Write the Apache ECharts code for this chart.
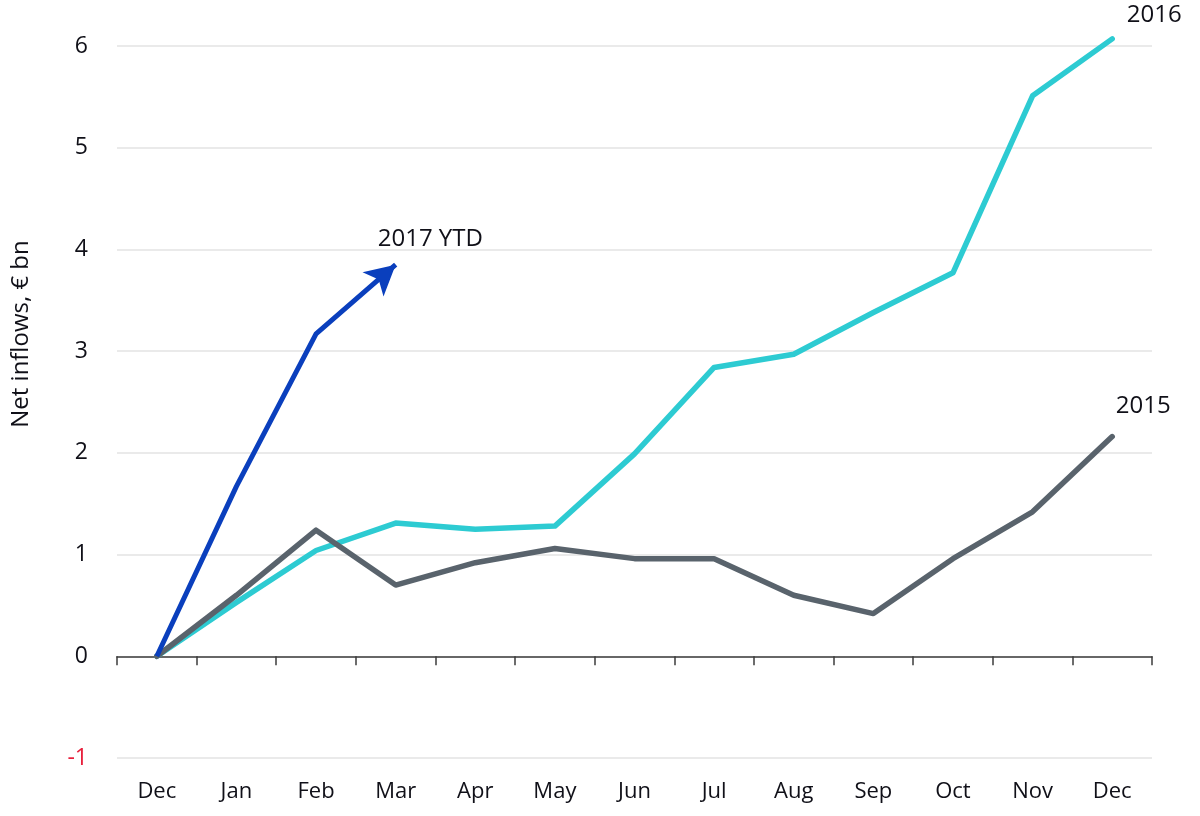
<!DOCTYPE html>
<html>
<head>
<meta charset="utf-8">
<script src="https://cdn.jsdelivr.net/npm/echarts@6/dist/echarts.min.js"></script>
<style>
html, body { margin: 0; padding: 0; background: #fff; }
#main { width: 1200px; height: 816px; }
</style>
</head>
<body>
<div id="main"></div>
<script>
var months = ['Dec', 'Jan', 'Feb', 'Mar', 'Apr', 'May', 'Jun', 'Jul', 'Aug', 'Sep', 'Oct', 'Nov', 'Dec'];
var yTicks = [-1, 0, 1, 2, 3, 4, 5, 6];
var inflows2015 = [0, 0.60, 1.24, 0.70, 0.92, 1.06, 0.96, 0.96, 0.60, 0.42, 0.96, 1.42, 2.16];
var inflows2016 = [0, 0.53, 1.04, 1.31, 1.25, 1.28, 1.99, 2.84, 2.97, 3.38, 3.77, 5.51, 6.07];
var inflows2017 = [0, 1.67, 3.17, 3.85];

var fontName = '"Open Sans", sans-serif';
var txtColor = '#101018';

// 2017 最后一点画箭头
var data2017 = inflows2017.slice(0, inflows2017.length - 1);
data2017.push({
	value: inflows2017[inflows2017.length - 1],
	symbol: 'arrow',
	symbolSize: [24, 30],
	symbolRotate: -49,
	itemStyle: { color: '#0a3fbd' },
	label: {
		show: true,
		position: 'inside',
		offset: [46, -35],
		formatter: '2017 YTD',
		fontFamily: fontName,
		fontSize: 24,
		color: txtColor
	}
});

function endLbl(offset) {
	return {
		show: true,
		formatter: '{a}',
		distance: 0,
		align: 'center',
		verticalAlign: 'middle',
		offset: offset,
		fontFamily: fontName,
		fontSize: 24,
		color: txtColor
	};
}

var myChart = echarts.init(document.getElementById('main'));
var option = {
	backgroundColor: '#fff',
	animation: false,
	grid: {
		left: 117,
		right: 48,
		top: 46,
		bottom: 58,
		containLabel: false
	},
	graphic: [{
		type: 'text',
		x: 9,
		y: 334,
		rotation: Math.PI / 2,
		style: {
			text: 'Net inflows, € bn',
			fontFamily: fontName,
			fontSize: 24,
			fill: txtColor,
			align: 'center',
			verticalAlign: 'top'
		}
	}],
	xAxis: [{
		type: 'category',
		data: months,
		position: 'bottom',
		boundaryGap: true,
		axisLine: { show: false, onZero: false },
		axisTick: { show: false },
		axisLabel: {
			margin: 23,
			fontFamily: fontName,
			fontSize: 22,
			color: txtColor
		},
		splitLine: { show: false }
	}, {
		type: 'category',
		data: months,
		position: 'bottom',
		boundaryGap: true,
		axisLine: {
			show: true,
			onZero: true,
			lineStyle: { color: '#3c3c3c', width: 1.5 }
		},
		axisTick: {
			show: true,
			length: 9,
			lineStyle: { color: '#3c3c3c', width: 1.5 }
		},
		axisLabel: { show: false },
		splitLine: { show: false }
	}],
	yAxis: {
		type: 'value',
		min: yTicks[0],
		max: yTicks[yTicks.length - 1],
		interval: 1,
		axisLine: { show: false },
		axisTick: { show: false },
		axisLabel: {
			margin: 29,
			fontFamily: fontName,
			fontSize: 23,
			color: function(value) {
				return value < 0 ? '#e8203c' : txtColor;
			}
		},
		splitLine: {
			show: true,
			lineStyle: { color: '#e3e3e3', width: 1.5 }
		}
	},
	series: [{
		name: '2015',
		type: 'line',
		data: inflows2015,
		symbol: 'none',
		clip: false,
		lineStyle: { color: '#59636c', width: 5.5, cap: 'round', join: 'round' },
		itemStyle: { color: '#59636c' },
		endLabel: endLbl([31, -30]),
		z: 3
	}, {
		name: '2016',
		type: 'line',
		data: inflows2016,
		symbol: 'none',
		clip: false,
		lineStyle: { color: '#2dcbd2', width: 5.5, cap: 'round', join: 'round' },
		itemStyle: { color: '#2dcbd2' },
		endLabel: endLbl([42, -24]),
		z: 2
	}, {
		name: '2017 YTD',
		type: 'line',
		data: data2017,
		symbol: 'none',
		clip: false,
		lineStyle: { color: '#0a3fbd', width: 5, join: 'round' },
		itemStyle: { color: '#0a3fbd' },
		z: 4
	}]
};
myChart.setOption(option);
</script>
</body>
</html>
